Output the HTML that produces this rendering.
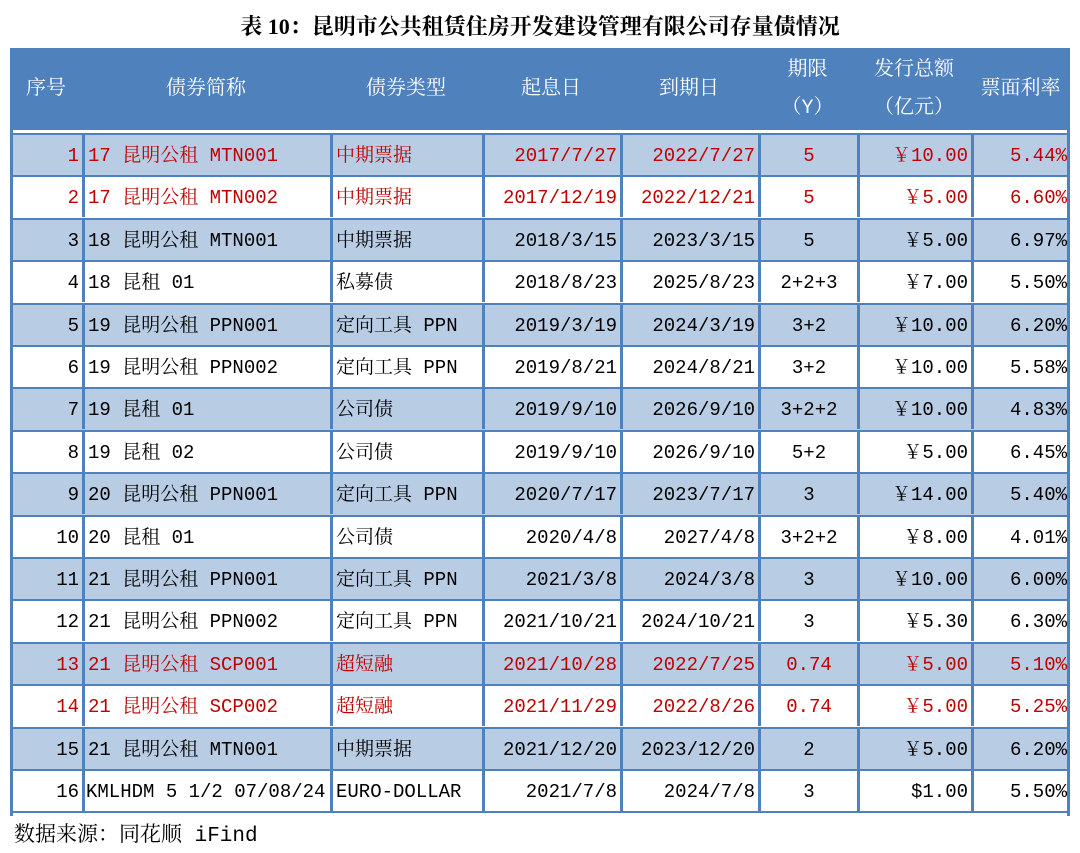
<!DOCTYPE html><html><head><meta charset="utf-8"><style>
body{margin:0;width:1080px;height:853px;background:#fff;position:relative;overflow:hidden;font-family:"Liberation Mono","Noto Serif CJK SC",monospace}
.t{position:absolute;left:0;width:1080px;top:10px;text-align:center;font-size:22px;font-weight:bold;color:#000;font-family:"Liberation Serif","Noto Serif CJK SC",serif}
.hd{position:absolute;left:10px;top:48px;width:1060px;height:82px;background:#4f81bd}
.h{position:absolute;color:#fff;font-size:20px;text-align:center;line-height:36px;font-family:"Liberation Mono","Noto Serif CJK SC",serif}
.row{position:absolute;left:10px;width:1060px;height:42.4px;box-sizing:border-box;border-top:2px solid #4f81bd}
.c{position:absolute;top:0;height:40px;line-height:42px;font-size:19px;white-space:nowrap;box-sizing:border-box;border-left:3px solid #4f81bd;padding:0 3px}
.src{position:absolute;left:14px;top:818px;font-size:21px;color:#000}
</style></head><body>
<div class="t">表 10：昆明市公共租赁住房开发建设管理有限公司存量债情况</div>
<div class="hd"></div>
<div class="h" style="left:10px;width:72px;top:72px">序号</div>
<div class="h" style="left:82px;width:248px;top:72px">债券简称</div>
<div class="h" style="left:330px;width:152px;top:72px">债券类型</div>
<div class="h" style="left:482px;width:138px;top:72px">起息日</div>
<div class="h" style="left:620px;width:138px;top:72px">到期日</div>
<div class="h" style="left:758px;width:99px;top:53px">期限</div>
<div class="h" style="left:758px;width:99px;top:91px">（Y）</div>
<div class="h" style="left:857px;width:114px;top:53px">发行总额</div>
<div class="h" style="left:857px;width:114px;top:91px">（亿元）</div>
<div class="h" style="left:971px;width:99px;top:72px">票面利率</div>
<div id="rows"></div>
<script>
var d=[["1","17 昆明公租 MTN001","中期票据","2017/7/27","2022/7/27","5","￥10.00","5.44%",1],
["2","17 昆明公租 MTN002","中期票据","2017/12/19","2022/12/21","5","￥5.00","6.60%",1],
["3","18 昆明公租 MTN001","中期票据","2018/3/15","2023/3/15","5","￥5.00","6.97%",0],
["4","18 昆租 01","私募债","2018/8/23","2025/8/23","2+2+3","￥7.00","5.50%",0],
["5","19 昆明公租 PPN001","定向工具 PPN","2019/3/19","2024/3/19","3+2","￥10.00","6.20%",0],
["6","19 昆明公租 PPN002","定向工具 PPN","2019/8/21","2024/8/21","3+2","￥10.00","5.58%",0],
["7","19 昆租 01","公司债","2019/9/10","2026/9/10","3+2+2","￥10.00","4.83%",0],
["8","19 昆租 02","公司债","2019/9/10","2026/9/10","5+2","￥5.00","6.45%",0],
["9","20 昆明公租 PPN001","定向工具 PPN","2020/7/17","2023/7/17","3","￥14.00","5.40%",0],
["10","20 昆租 01","公司债","2020/4/8","2027/4/8","3+2+2","￥8.00","4.01%",0],
["11","21 昆明公租 PPN001","定向工具 PPN","2021/3/8","2024/3/8","3","￥10.00","6.00%",0],
["12","21 昆明公租 PPN002","定向工具 PPN","2021/10/21","2024/10/21","3","￥5.30","6.30%",0],
["13","21 昆明公租 SCP001","超短融","2021/10/28","2022/7/25","0.74","￥5.00","5.10%",1],
["14","21 昆明公租 SCP002","超短融","2021/11/29","2022/8/26","0.74","￥5.00","5.25%",1],
["15","21 昆明公租 MTN001","中期票据","2021/12/20","2023/12/20","2","￥5.00","6.20%",0],
["16","KMLHDM 5 1/2 07/08/24","EURO-DOLLAR","2021/7/8","2024/7/8","3","$1.00","5.50%",0]];
var xs=[0,72,320,472,610,748,847,961,1060],al=["right","left","left","right","right","center","right","right"];
var h="";
d.forEach(function(r,i){
var top=133+i*42.4;
h+='<div class="row" style="top:'+top+'px;background:'+(i%2==0?'#b8cce4':'#fff')+';color:'+(r[8]?'#c00000':'#000')+(i==15?';border-bottom:2px solid #4f81bd;height:44px':'')+'">';
for(var j=0;j<8;j++){h+='<div class="c" style="left:'+xs[j]+'px;width:'+(xs[j+1]-xs[j])+'px;text-align:'+al[j]+(j==0?';border-left:none':'')+(j==1&&i==15?';padding:0 1px':'')+'">'+r[j]+'</div>';}
h+='</div>';});
document.getElementById("rows").innerHTML=h;
</script>
<div style="position:absolute;left:1067px;top:48px;width:3px;height:768px;background:#4f81bd"></div>
<div style="position:absolute;left:10px;top:48px;width:3px;height:768px;background:#4f81bd"></div>
<div class="src">数据来源：同花顺 iFind</div>
</body></html>
